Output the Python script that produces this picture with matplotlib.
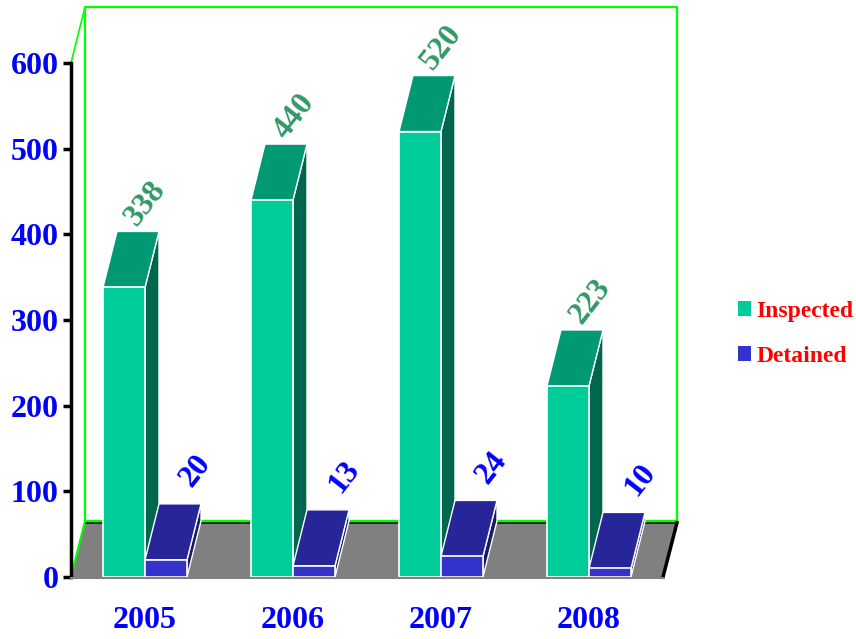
"""Inspected vs detained per year, faux-3D column chart."""
import matplotlib
matplotlib.use('Agg')
import matplotlib.pyplot as plt
from matplotlib.patches import Patch, Polygon
import numpy as np

years = ['2005', '2006', '2007', '2008']
inspected = [338, 440, 520, 223]
detained = [20, 13, 24, 10]
yticks = [0, 100, 200, 300, 400, 500, 600]

W, H = 856, 639
L, R, T, B = 71, 663, 63, 577  # plot box in pixels
plt.rcParams['font.family'] = ['Liberation Serif', 'DejaVu Serif']
plt.rcParams['font.weight'] = 'bold'

fig = plt.figure(figsize=(W / 100, H / 100), dpi=100)
ax = fig.add_axes([L / W, 1 - B / H, (R - L) / W, (B - T) / H])
ax.set_xlim(0, 4)
ax.set_ylim(0, 600)
ax.patch.set_visible(False)

# depth of the fake 3D, in data units
dx = 14 / 148
dy = 56 * 600 / 514
bw = 42 / 148
first = 32 / 148


def poly(pts, face, edge='none', lw=1.0, z=2):
    ax.add_patch(Polygon(pts, closed=True, facecolor=face, edgecolor=edge, linewidth=lw,
                         zorder=z, clip_on=False, joinstyle='round'))


def column(x, v, front, top, side):
    poly([(x + bw, 0), (x + bw + dx, dy), (x + bw + dx, v + dy), (x + bw, v)], side, 'white', 1.0)
    poly([(x, v), (x + dx, v + dy), (x + bw + dx, v + dy), (x + bw, v)], top, 'white', 1.0)
    poly([(x, 0), (x + bw, 0), (x + bw, v), (x, v)], front, 'white', 1.2)


# back wall and floor
poly([(dx, dy), (4 + dx, dy), (4 + dx, 600 + dy), (dx, 600 + dy)], 'white', '#00ff00', 1.6, z=1)
poly([(0, 0), (4, 0), (4 + dx, dy - 2), (dx, dy - 2)], '#808080', z=1.2)
ax.plot([dx, 4 + dx], [dy - 2, dy - 2], color='#111111', lw=1.2, zorder=1.3, clip_on=False)
ax.plot([dx, 4 + dx], [dy, dy], color='#00ff00', lw=1.6, zorder=1.4, clip_on=False)
ax.plot([0, dx], [0, dy], color='#00ff00', lw=1.5, zorder=1.4, clip_on=False)
ax.plot([0, dx], [600, 600 + dy], color='#00ff00', lw=1.2, zorder=1.4, clip_on=False)
ax.plot([4, 4 + dx], [0, dy - 2], color='black', lw=2.5, zorder=1.4, clip_on=False)

for i in range(len(years)):
    x1 = i + first
    x2 = x1 + bw
    column(x1, inspected[i], '#00cc99', '#009973', '#00664d')
    column(x2, detained[i], '#3333cc', '#262699', '#1a1a66')
    ax.annotate(str(inspected[i]), (x1, inspected[i]), xytext=(43 * .72, 84 * .72),
                textcoords='offset points', color='#339966', fontsize=23, rotation=52,
                ha='center', va='center', zorder=5, annotation_clip=False)
    ax.annotate(str(detained[i]), (x2, detained[i]), xytext=(51 * .72, 89 * .72),
                textcoords='offset points', color='#0000ff', fontsize=23, rotation=52,
                ha='center', va='center', zorder=5, annotation_clip=False)

# set_position resets the ticks, so it has to come first
ax.spines['bottom'].set_position(('outward', 1))
ax.spines['bottom'].set_color('#808080')
ax.spines['bottom'].set_linewidth(1.5)
ax.spines['bottom'].set_zorder(6)
for s in ('top', 'right'):
    ax.spines[s].set_visible(False)
ax.spines['left'].set_linewidth(2.5)
ax.spines['left'].set_color('black')
ax.spines['left'].set_zorder(6)

ax.set_yticks(yticks)
ax.set_yticklabels([str(t) for t in yticks], color='#0000ff', fontsize=23)
ax.tick_params(axis='y', length=6, width=2.5, color='black', pad=3)
ax.set_xticks(np.arange(len(years)) + 0.5)
ax.set_xticklabels(years, color='#0000ff', fontsize=23)
ax.tick_params(axis='x', length=0, pad=20)
ax.set_xticks([1, 2, 3], minor=True)
ax.tick_params(axis='x', which='minor', length=2, width=1, color='white', direction='inout')

handles = [Patch(facecolor='#00cc99', edgecolor='none', label='Inspected'),
           Patch(facecolor='#3333cc', edgecolor='none', label='Detained')]
ax.legend(handles=handles, loc='center left', bbox_to_anchor=(729 / W, 1 - 334 / H),
          bbox_transform=fig.transFigure, frameon=False, fontsize=17, labelcolor='#ff0000',
          handlelength=0.55, handleheight=0.6, handletextpad=0.2, labelspacing=1.03,
          borderpad=0, borderaxespad=0.4)

fig.savefig('out.png', dpi=100)
